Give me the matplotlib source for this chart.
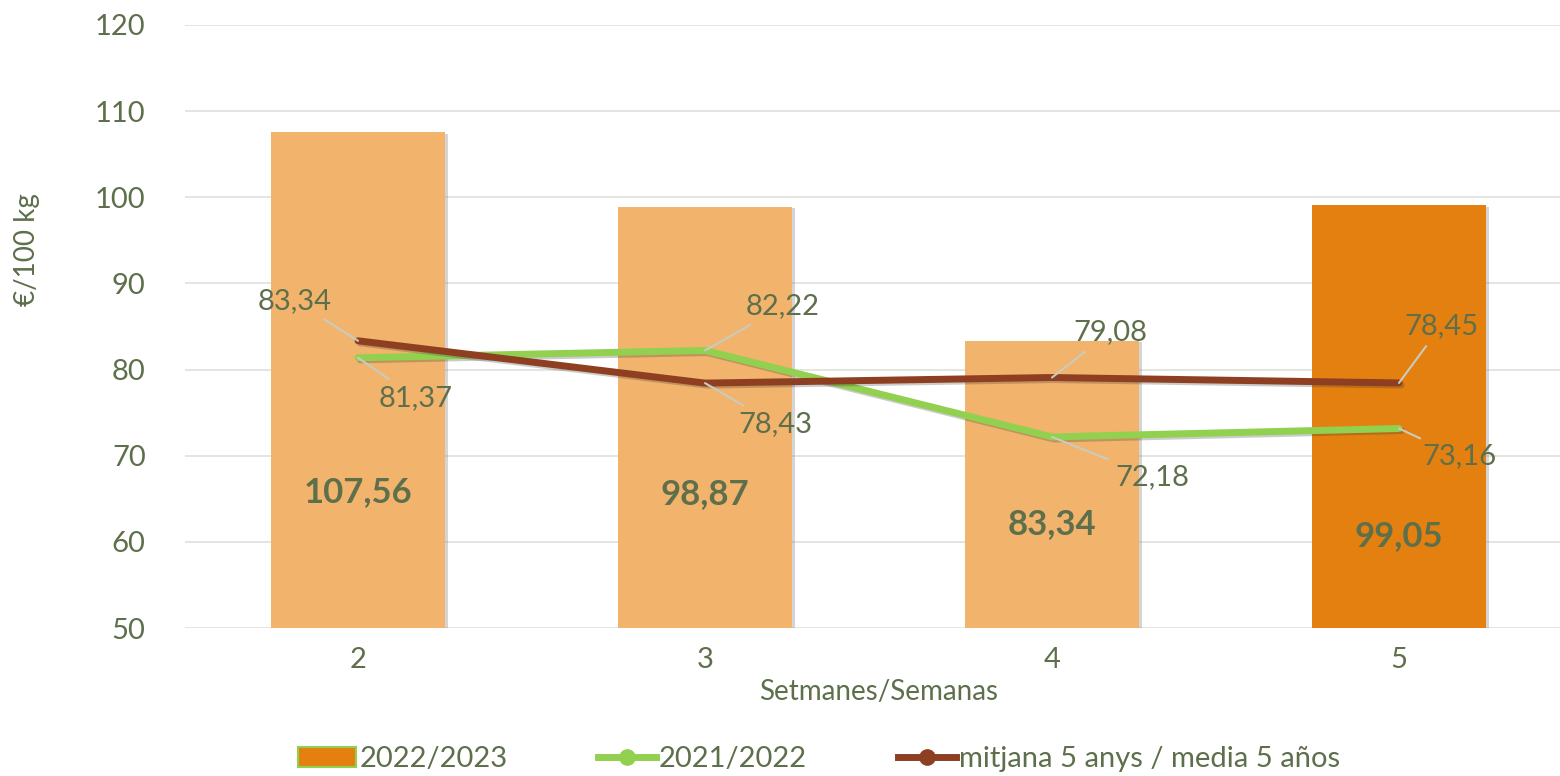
import matplotlib.pyplot as plt
import matplotlib.patheffects as pe
from matplotlib.lines import Line2D
from matplotlib.patches import Patch

# dades
setmanes = ['2', '3', '4', '5']
campanya_2022_23 = [107.56, 98.87, 83.34, 99.05]
campanya_2021_22 = [81.37, 82.22, 72.18, 73.16]
mitjana_5_anys = [83.34, 78.43, 79.08, 78.45]

# posicio (y) de les etiquetes de les barres
pos_etiqueta_barra = [65.8, 65.6, 62.1, 60.7]

# desplacaments (pixels) de les etiquetes de les linies
desp_verd = [(58, -40), (78, 44), (100, -40), (60, -28)]
desp_marro = [(-63, 40), (70, -41), (58, 45), (42, 57)]

text_col = '#5E6F4B'
verd = '#92D050'
marro = '#8E3F21'
taronja_clar = '#F2B36D'
taronja = '#E38010'

plt.rcParams['font.family'] = ['Lato', 'DejaVu Sans']

fig = plt.figure(figsize=(15.6, 7.76), dpi=100)
ax = fig.add_axes([0.1183, 0.1907, 0.8897, 0.7771])

x = range(len(setmanes))
colors = [taronja_clar] * 3 + [taronja]
sombra = [pe.SimplePatchShadow(offset=(2, -1), shadow_rgbFace='#777777', alpha=0.3), pe.Normal()]
bars = ax.bar(x, [v - 50 for v in campanya_2022_23], bottom=50, width=0.5,
              color=colors, zorder=2)
for b in bars:
    b.set_path_effects(sombra)

for i, v in enumerate(campanya_2022_23):
    ax.text(i, pos_etiqueta_barra[i], f'{v:.2f}'.replace('.', ','), ha='center', va='center',
            fontsize=25, fontweight='bold', color=text_col, zorder=5)

linia_sombra = [pe.SimpleLineShadow(offset=(1.5, -1.5), shadow_color='#333333', alpha=0.25),
                pe.Normal()]
ax.plot(x, campanya_2021_22, color=verd, lw=5, solid_capstyle='round', zorder=3,
        path_effects=linia_sombra)
ax.plot(x, mitjana_5_anys, color=marro, lw=5, solid_capstyle='round', zorder=4,
        path_effects=linia_sombra)

def etiquetes(vals, desp):
    for i, v in enumerate(vals):
        ax.annotate(f'{v:.2f}'.replace('.', ','), xy=(i, v), xytext=desp[i],
                    textcoords='offset pixels', ha='center', va='center',
                    fontsize=21, color=text_col, zorder=6,
                    arrowprops=dict(arrowstyle='-', color='#C8CCBF', lw=1.5,
                                    shrinkA=4, shrinkB=0))

etiquetes(campanya_2021_22, desp_verd)
etiquetes(mitjana_5_anys, desp_marro)

ax.set_xlim(-0.5, 3.5)
ax.set_ylim(50, 120)
ax.set_yticks(range(50, 121, 10))
ax.set_xticks(list(x))
ax.set_xticklabels(setmanes)
ax.grid(axis='y', color='#E3E3DC', lw=1.3, zorder=0)
ax.set_axisbelow(True)
for s in ax.spines.values():
    s.set_visible(False)
ax.tick_params(length=0, labelsize=21, colors=text_col)
ax.tick_params(axis='y', pad=28)
ax.tick_params(axis='x', pad=14)
ax.set_xlabel('Setmanes/Semanas', fontsize=20, color=text_col, labelpad=4)
fig.text(0.017, 0.678, '€/100 kg', rotation=90, ha='center', va='center',
         fontsize=20, color=text_col)

handles = [
    Patch(facecolor=taronja, edgecolor=verd, lw=1.5, label='2022/2023'),
    Line2D([], [], color=verd, lw=5, marker='o', markersize=11, label='2021/2022'),
    Line2D([], [], color=marro, lw=5, marker='o', markersize=11,
           label='mitjana 5 anys / media 5 años'),
]
leg = fig.legend(handles=handles, loc='center', bbox_to_anchor=(0.525, 0.022), ncol=3,
                 frameon=False, fontsize=21, columnspacing=3.1, handlelength=2.0,
                 handletextpad=0.1, labelcolor=text_col)

fig.savefig('out.png', dpi=100)
